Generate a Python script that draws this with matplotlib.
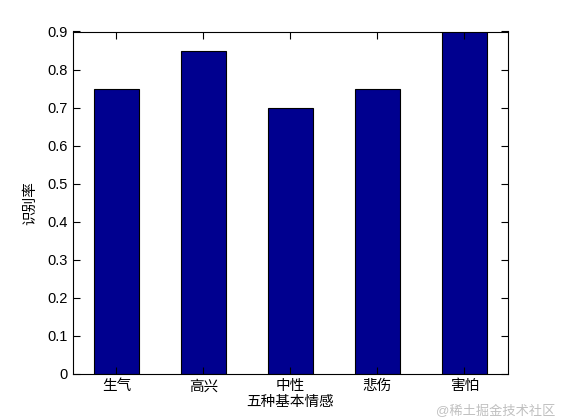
import matplotlib as mpl
import matplotlib.pyplot as plt

mpl.rcParams['font.family'] = ['Liberation Sans', 'Noto Sans CJK SC', 'DejaVu Sans']
mpl.rcParams['axes.unicode_minus'] = False

emotions = ['生气', '高兴', '中性', '悲伤', '害怕']
rates = [0.75, 0.85, 0.70, 0.75, 0.90]
yticks = [0, 0.1, 0.2, 0.3, 0.4, 0.5, 0.6, 0.7, 0.8, 0.9]

fig = plt.figure(figsize=(5.61, 4.2), dpi=100)
ax = fig.add_axes([0.13, 0.11, 0.775, 0.815])

pos = list(range(1, len(emotions) + 1))
ax.bar(pos, rates, width=0.52, color='#00008f', edgecolor='black', linewidth=0.8)

ax.set_xlim(0.5, 5.5)
ax.set_ylim(0, 0.9)
ax.set_xticks(pos)
ax.set_xticklabels(emotions, fontsize=10.5)
ax.set_yticks(yticks)
ax.set_yticklabels([('%g' % v) for v in yticks], fontsize=10.5)
ax.tick_params(direction='in', top=True, right=True, length=5, width=0.8, pad=4)
for s in ax.spines.values():
    s.set_linewidth(0.8)

ax.set_xlabel('五种基本情感', fontsize=10.5, labelpad=1)
ax.set_ylabel('识别率', fontsize=10.5, labelpad=7)

fig.text(0.99, 0.005, '@稀土掘金技术社区', ha='right', va='bottom',
         fontsize=9.5, color='#c0c0c0')

fig.savefig('out.png', dpi=100)
